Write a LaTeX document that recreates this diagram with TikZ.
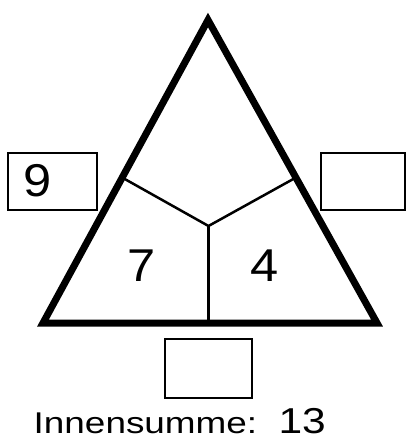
\documentclass[tikz,border=0pt]{standalone}
\usepackage{fontspec}
\setmainfont{Liberation Sans}
\usetikzlibrary{calc}
\tikzset{
  tri/.style={line width=7pt, line join=miter},
  inner/.style={line width=2.5pt},
  answerbox/.style={draw, line width=2pt},
  digit/.style={inner sep=0pt, font=\fontsize{46}{46}\selectfont},
}
\begin{document}
\begin{tikzpicture}[x=1pt,y=-1pt]
\useasboundingbox (0,0) rectangle (407,444);
\coordinate (A) at (208,20);
\coordinate (L) at (43,323);
\coordinate (R) at (377,323);
\coordinate (M) at (208.5,226);
\coordinate (ML) at ($(A)!0.52!(L)$);
\coordinate (MR) at ($(A)!0.52!(R)$);
\coordinate (MB) at (208.5,323);
\draw[inner] (ML) -- (M) -- (MR);
\draw[inner] (M) -- (MB);
\draw[tri] (A) -- (L) -- (R) -- cycle;
\draw[answerbox] (8,153) rectangle (97,210);
\draw[answerbox] (321,153) rectangle (405,210);
\draw[answerbox] (165,339) rectangle (252,398);
\node[digit] (n9) at (38,181) {\scalebox{1.1}[1]{9}};
\node[digit] (n7) at (141.5,265.5) {\scalebox{1.1}[1]{7}};
\node[digit] (n4) at (265,266) {\scalebox{1.1}[1]{4}};
\node[inner sep=0pt, anchor=base west] (sum) at (33.5,433)
  {\scalebox{1.23}[1]{\fontsize{30}{30}\selectfont Innensumme:}};
\node[inner sep=0pt, anchor=base east] (val) at (326,433)
  {\scalebox{1.18}[1]{\fontsize{36}{36}\selectfont 13}};
\end{tikzpicture}
\end{document}
